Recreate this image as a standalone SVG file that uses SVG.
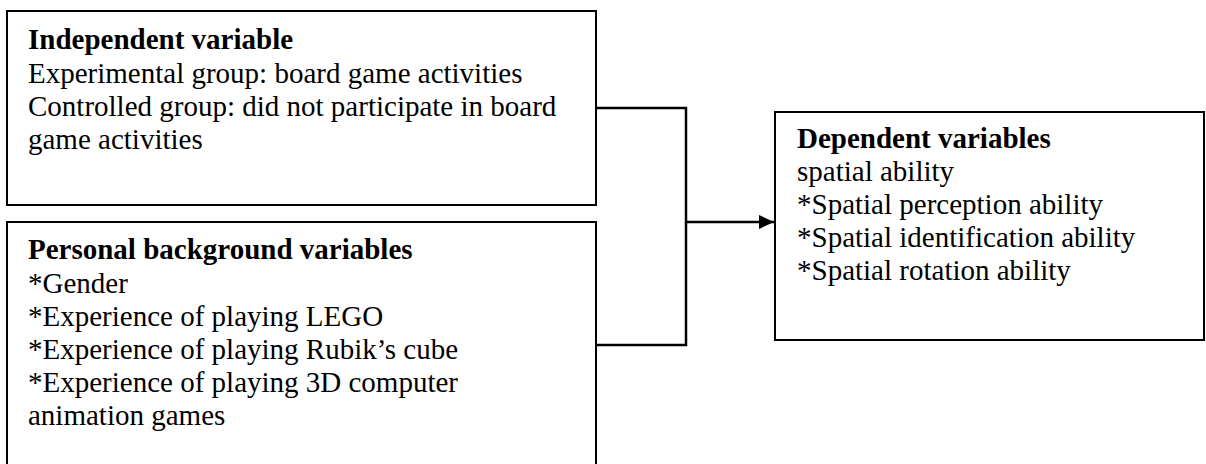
<svg xmlns="http://www.w3.org/2000/svg" width="1206" height="464" viewBox="0 0 1206 464">
<defs>
<style>
.box{fill:#fff;stroke:#000;stroke-width:2}
.t{font-family:"Liberation Serif","Times New Roman",serif;font-size:29px;fill:#000}
.b{font-weight:bold}
.c{fill:none;stroke:#000;stroke-width:2.5}
</style>
<marker id="ah" markerWidth="16" markerHeight="16" refX="15" refY="7" orient="auto" markerUnits="userSpaceOnUse">
<path d="M0,0 L15,7 L0,14 Z" fill="#000"/>
</marker>
</defs>
<rect width="1206" height="464" fill="#fff"/>
<g id="connectors">
<path class="c" d="M596,108 H686 V345 H596"/>
<path class="c" d="M686,222 H774" marker-end="url(#ah)"/>
</g>
<g id="independent">
<rect class="box" x="7" y="11" width="589" height="194"/>
<text class="t" x="28" y="49"><tspan class="b">Independent variable</tspan><tspan x="28" y="83">Experimental group: board game activities</tspan><tspan x="28" y="116">Controlled group: did not participate in board</tspan><tspan x="28" y="149">game activities</tspan></text>
</g>
<g id="background">
<rect class="box" x="7" y="222" width="589" height="260"/>
<text class="t" x="28" y="259"><tspan class="b">Personal background variables</tspan><tspan x="28" y="293">*Gender</tspan><tspan x="28" y="326">*Experience of playing LEGO</tspan><tspan x="28" y="359">*Experience of playing Rubik’s cube</tspan><tspan x="28" y="392">*Experience of playing 3D computer</tspan><tspan x="28" y="425">animation games</tspan></text>
</g>
<g id="dependent">
<rect class="box" x="775" y="112" width="429" height="228"/>
<text class="t" x="797" y="148"><tspan class="b">Dependent variables</tspan><tspan x="797" y="181">spatial ability</tspan><tspan x="797" y="214">*Spatial perception ability</tspan><tspan x="797" y="247">*Spatial identification ability</tspan><tspan x="797" y="280">*Spatial rotation ability</tspan></text>
</g>
</svg>
